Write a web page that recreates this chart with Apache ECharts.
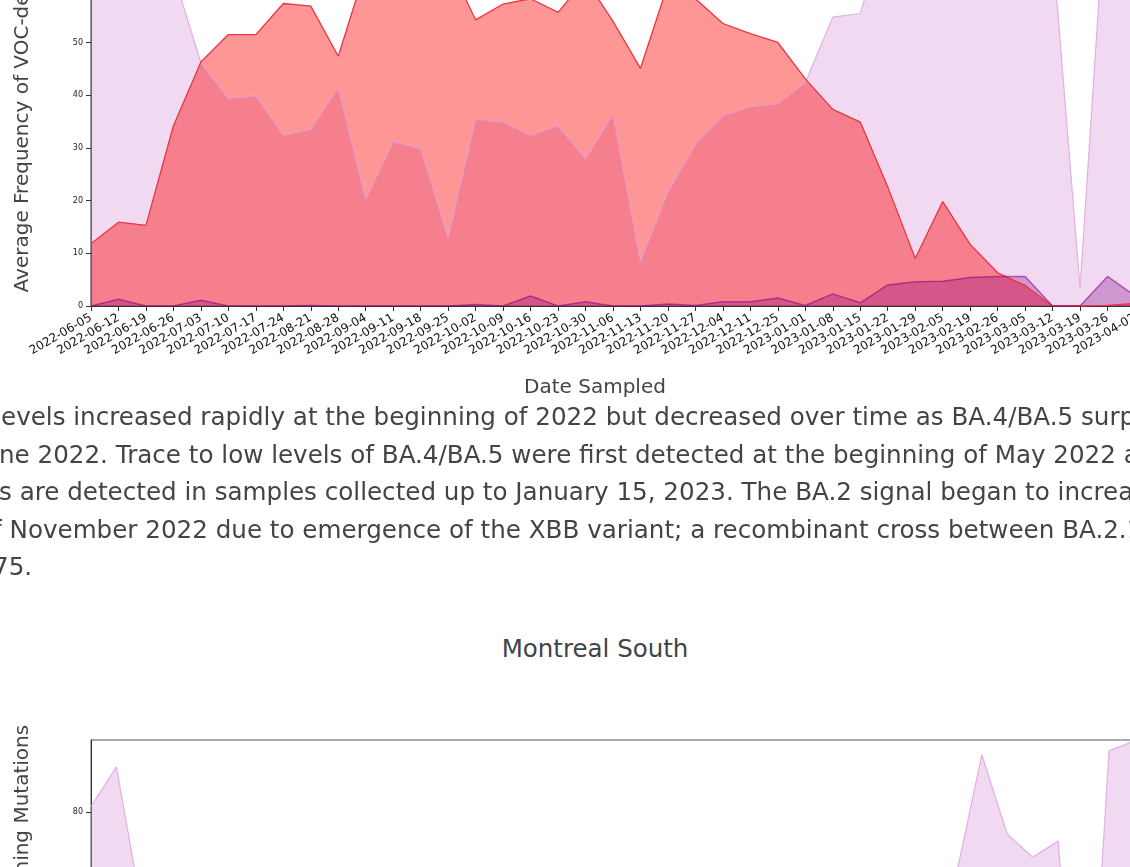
<!DOCTYPE html>
<html>
<head>
<meta charset="utf-8">
<script src="https://cdn.jsdelivr.net/npm/echarts@6.0.0/dist/echarts.min.js"></script>
<style>
  html, body { margin: 0; padding: 0; background: #fff; }
  body { width: 1130px; height: 867px; overflow: hidden; position: relative; font-family: 'DejaVu Sans', sans-serif; color: #444; }
  #north { position: absolute; left: 0; top: -200px; width: 1200px; height: 620px; }
  #south { position: absolute; left: 0; top: 700px; width: 1200px; height: 600px; }
  .para { position: absolute; left: 0; top: 398px; font-size: 24.6px; line-height: 37.5px; }
  .para div { white-space: nowrap; }
  .title { position: absolute; left: 595px; top: 634px; transform: translateX(-50%); font-size: 24.5px; white-space: nowrap; }
</style>
</head>
<body>
<div id="north"></div>
<div class="para">
  <div style="margin-left:1px">evels increased rapidly at the beginning of 2022 but decreased over time as BA.4/BA.5 surpassed</div>
  <div style="margin-left:-1px">ne 2022. Trace to low levels of BA.4/BA.5 were first detected at the beginning of May 2022 and</div>
  <div style="margin-left:-1px">s are detected in samples collected up to January 15, 2023. The BA.2 signal began to increase</div>
  <div style="margin-left:-22px">of November 2022 due to emergence of the XBB variant; a recombinant cross between BA.2.10.1 and</div>
  <div style="margin-left:-7px">75.</div>
</div>
<div class="title">Montreal South</div>
<div id="south"></div>
<script>
var chartNorth = echarts.init(document.getElementById('north'));
var chartSouth = echarts.init(document.getElementById('south'));

var datesNorth = ['2022-06-05', '2022-06-12', '2022-06-19', '2022-06-26', '2022-07-03', '2022-07-10', '2022-07-17',
    '2022-07-24', '2022-08-21', '2022-08-28', '2022-09-04', '2022-09-11', '2022-09-18', '2022-09-25', '2022-10-02',
    '2022-10-09', '2022-10-16', '2022-10-23', '2022-10-30', '2022-11-06', '2022-11-13', '2022-11-20', '2022-11-27',
    '2022-12-04', '2022-12-11', '2022-12-25', '2023-01-01', '2023-01-08', '2023-01-15', '2023-01-22', '2023-01-29',
    '2023-02-05', '2023-02-19', '2023-02-26', '2023-03-05', '2023-03-12', '2023-03-19', '2023-03-26', '2023-04-02'];

// light purple (BA.2), red (BA.4/BA.5), dark purple (other)
var ba2North = [85, 80, 75, 63, 46.2, 39.4, 39.9, 32.4, 33.5, 41.5, 20.3, 31.2, 29.9, 13.0, 35.5, 34.9, 32.4, 34.2,
    28.0, 36.4, 8.5, 21.7, 30.7, 36.1, 37.8, 38.4, 42.4, 54.8, 55.5, 73, 85, 82, 84, 86, 83, 68, 3.5, 83, 85];
var ba45North = [11.8, 15.9, 15.3, 34.2, 46.3, 51.5, 51.5, 57.4, 56.9, 47.4, 64, 66, 63, 65, 54.3, 57.3, 58.3, 55.7,
    62, 54, 45.1, 61, 58.3, 53.6, 51.7, 50.0, 43.1, 37.3, 34.9, 22.6, 9.0, 19.8, 11.7, 6.3, 3.9, 0, 0, 0.1, 0.5];
var otherNorth = [0, 1.3, 0, 0, 1.1, 0, 0, 0, 0.1, 0, 0, 0, 0, 0, 0.3, 0, 1.9, 0, 0.8, 0, 0, 0.4, 0.1, 0.8, 0.8,
    1.5, 0.1, 2.3, 0.6, 4.0, 4.6, 4.7, 5.4, 5.6, 5.6, 0, 0, 5.6, 1.9];

var datesSouth = ['2022-05-29', '2022-06-05', '2022-06-12', '2022-06-19', '2022-06-26', '2022-07-03', '2022-07-10',
    '2022-07-17', '2022-07-24', '2022-07-31', '2022-08-07', '2022-08-14', '2022-08-21', '2022-08-28', '2022-09-04',
    '2022-09-11', '2022-09-18', '2022-09-25', '2022-10-02', '2022-10-09', '2022-10-16', '2022-10-23', '2022-10-30',
    '2022-11-06', '2022-11-13', '2022-11-20', '2022-11-27', '2022-12-04', '2022-12-11', '2022-12-18', '2022-12-25',
    '2023-01-01', '2023-01-08', '2023-01-15', '2023-01-22', '2023-01-29', '2023-02-05', '2023-02-12', '2023-02-19',
    '2023-02-26', '2023-03-05', '2023-03-12'];
var ba2South = [81.3, 90.1, 58, 38, 30, 26, 22, 24, 20, 18, 21, 17, 15, 19, 23, 20, 18, 16, 22, 25, 19, 14, 17, 21,
    24, 27, 30, 28, 33, 40, 45, 52, 58, 63, 66, 92.8, 75.1, 69.9, 73.5, 1, 93.7, 95.9];

var yTicksNorth = [0, 10, 20, 30, 40, 50, 60, 70, 80, 90];
var yTicksSouth = [0, 20, 40, 60, 80];

var fontName = 'DejaVu Sans';
var yName = 'Average Frequency of VOC-defining Mutations';

function areaSeries(name, data, color, lineColor, lineOpacity, fillOpacity, width) {
    return {
        name: name,
        type: 'line',
        data: data,
        symbol: 'none',
        silent: true,
        itemStyle: { color: color },
        lineStyle: { color: lineColor, width: width, opacity: lineOpacity },
        areaStyle: { color: color, opacity: fillOpacity }
    };
}

function yAxisFor(max, ticks) {
    return {
        type: 'value',
        min: 0,
        max: max,
        name: yName,
        nameLocation: 'middle',
        nameGap: 58,
        nameTextStyle: { fontSize: 20, color: '#444', fontFamily: fontName },
        axisLine: { show: true, lineStyle: { color: '#333', width: 1 } },
        axisTick: { show: true, length: 5, customValues: ticks, lineStyle: { color: '#333' } },
        axisLabel: { fontSize: 8, color: '#222', margin: 8, fontFamily: fontName, customValues: ticks },
        splitLine: { show: false }
    };
}

option1 = {
    animation: false,
    grid: { left: 91, right: 65, top: 18.5, bottom: 114, show: true, borderColor: '#333', borderWidth: 1 },
    xAxis: {
        type: 'category',
        data: datesNorth,
        boundaryGap: false,
        axisLine: { lineStyle: { color: '#333', width: 1 } },
        axisTick: { length: 5, interval: 0, lineStyle: { color: '#333' } },
        axisLabel: { rotate: 30, interval: 0, fontSize: 12, color: '#111', margin: 11, fontFamily: fontName },
        splitLine: { show: false }
    },
    yAxis: yAxisFor(92.5, yTicksNorth),
    graphic: [{
        type: 'text',
        x: 595,
        y: 588,
        style: {
            text: 'Date Sampled',
            fontSize: 20,
            fontFamily: fontName,
            fill: '#444',
            textAlign: 'center',
            align: 'center',
            textVerticalAlign: 'middle',
            verticalAlign: 'middle'
        }
    }],
    series: [
        areaSeries('BA.2', ba2North, 'plum', 'plum', 0.8, 0.4, 1.2),
        areaSeries('BA.4/BA.5', ba45North, 'red', '#ee3344', 1, 0.41, 1.3),
        areaSeries('Other', otherNorth, 'purple', 'purple', 0.55, 0.3, 1.5)
    ]
};

chartNorth.setOption(option1);

option2 = {
    animation: false,
    grid: { left: 91, right: 65.5, top: 40, bottom: 130, show: true, borderColor: '#555', borderWidth: 1 },
    xAxis: {
        type: 'category',
        data: datesSouth,
        boundaryGap: false,
        axisLine: { lineStyle: { color: '#333' } },
        axisTick: { length: 5, interval: 0 },
        axisLabel: { rotate: 30, interval: 0, fontSize: 12, color: '#111', fontFamily: fontName },
        splitLine: { show: false }
    },
    yAxis: yAxisFor(96.1, yTicksSouth),
    series: [
        areaSeries('BA.2', ba2South, 'plum', 'plum', 0.8, 0.4, 1.2)
    ]
};

chartSouth.setOption(option2);
</script>
</body>
</html>
